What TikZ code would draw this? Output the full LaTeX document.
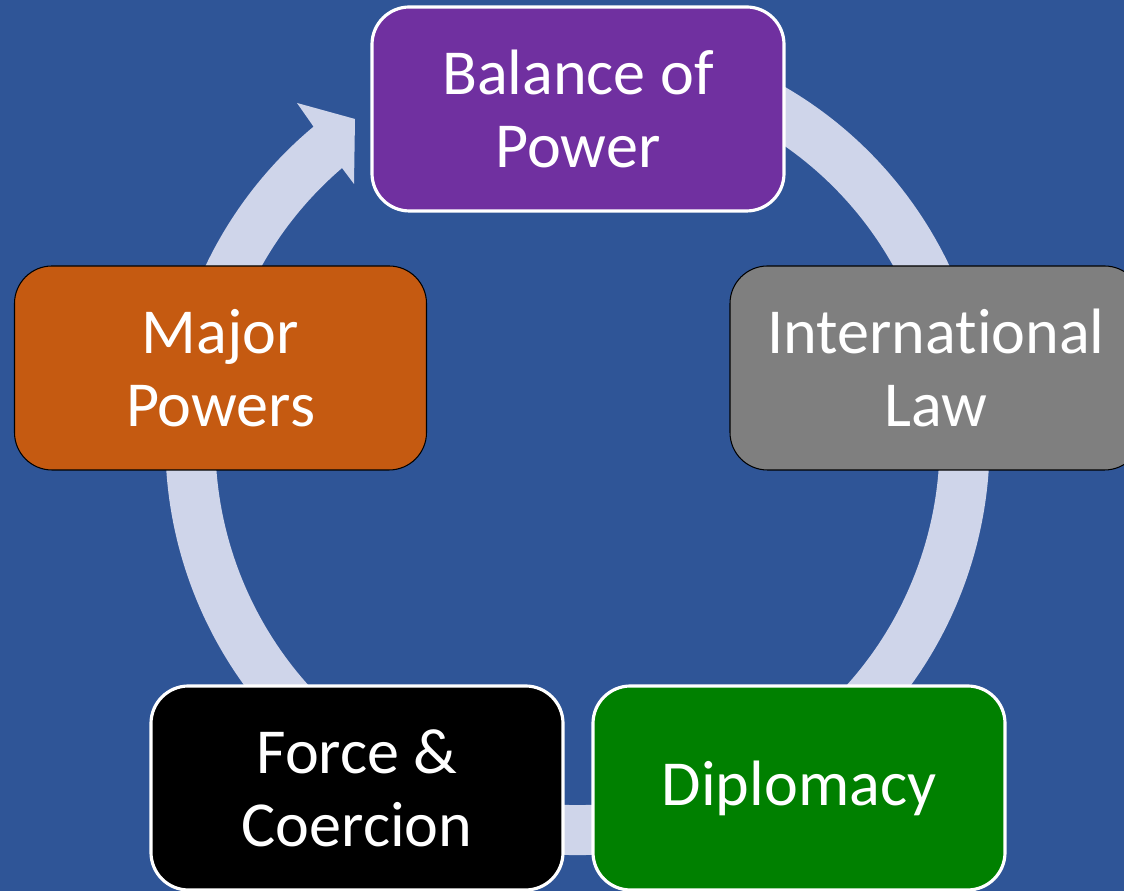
\documentclass[tikz,border=0pt]{standalone}
\usepackage{fontspec}
\setmainfont[Ligatures=NoCommon]{Carlito}
\definecolor{bgblue}{HTML}{2F5597}
\definecolor{ringblue}{HTML}{CFD5EA}
\definecolor{powerpurple}{HTML}{7030A0}
\definecolor{majororange}{HTML}{C55A11}
\definecolor{lawgray}{HTML}{7F7F7F}
\definecolor{diplogreen}{HTML}{008000}

\begin{document}
\begin{tikzpicture}[
    phase/.style={rectangle, rounded corners=0.75cm, minimum width=8.24cm, minimum height=4.08cm,
      align=center, text=white, font=\fontsize{36.5}{41.5}\selectfont, inner sep=0pt},
    whiteedge/.style={draw=white, line width=1.8pt},
    darkedge/.style={draw=black, line width=0.6pt}
  ]
    \useasboundingbox (0,0) rectangle (22.48,17.82);
    \clip (0,0) rectangle (22.48,17.82);
    \fill [bgblue] (0,0) rectangle (22.48,17.82);
    % cycle ring and arrow head
    \coordinate (ring) at (11.55, 8.96);
    \draw [ringblue, line width=1cm] (ring) ++(70:7.74) arc (70:-231:7.74);
    \fill [ringblue] (6.22, 15.36) -- (5.94, 15.76) -- (7.10, 15.44) -- (7.08, 14.14) -- (6.78, 14.54) -- cycle;
    % stages
    \node [phase, whiteedge, fill=powerpurple] (balance) at (11.56, 15.64) {Balance of\\Power};
    \node [phase, darkedge, fill=lawgray] (law) at (18.72, 10.46) {International\\Law};
    \node [phase, whiteedge, fill=diplogreen] (diplomacy) at (15.98, 2.06) {Diplomacy};
    \node [phase, whiteedge, fill=black] (force) at (7.14, 2.06) {Force \&\\Coercion};
    \node [phase, darkedge, fill=majororange] (major) at (4.41, 10.46) {Major\\Powers};
  \end{tikzpicture}
\end{document}
